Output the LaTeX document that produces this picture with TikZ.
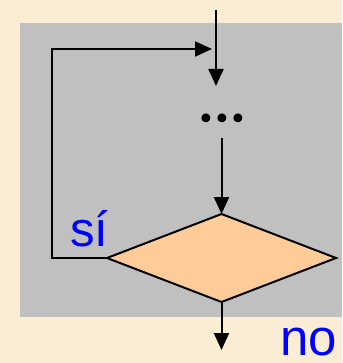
\documentclass[tikz,border=0pt]{standalone}
\usepackage{fontspec}
\setmainfont{Liberation Sans}
\newfontfamily\dejavu{DejaVu Sans}
\usetikzlibrary{arrows.meta,shapes.geometric}
\definecolor{bgbeige}{RGB}{250,237,212}
\definecolor{panelgray}{RGB}{192,192,192}
\definecolor{decfill}{RGB}{255,204,153}
\definecolor{lblblue}{RGB}{0,0,255}
\newcommand{\dotcell}{\makebox[16pt][c]{•}}
\tikzset{
  flow/.style={line width=2pt, -{Triangle[length=17pt,width=15pt]}},
  decision/.style={diamond, draw, line width=2pt, fill=decfill, inner sep=0pt, outer sep=0pt, minimum width=229pt, minimum height=88pt},
  lbl/.style={text=lblblue, inner sep=0pt, anchor=base west, text depth=0pt}
}
\begin{document}
\begin{tikzpicture}[x=1pt,y=-1pt]
\useasboundingbox (0,0) rectangle (342,363);
\fill[bgbeige] (0,0) rectangle (342,363);
\fill[panelgray] (20,23) rectangle (342,317);
% nodes
\node[decision] (dec) at (221.5,258) {};
\node[inner sep=0pt] (dots) at (222,122) {\dejavu\fontsize{30}{30}\selectfont\dotcell\dotcell\dotcell};
\node[lbl, font=\fontsize{49}{49}\selectfont] (si) at (70,246) {sí};
\node[lbl, font=\fontsize{51}{51}\selectfont] (no) at (280,355) {no};
% coordinates
\coordinate (in) at (216,10);
\coordinate (inend) at (216,86);
\coordinate (loopend) at (212,49);
\coordinate (dotsout) at (221.5,138);
\coordinate (out) at (221.5,350);
% connectors
\draw[flow] (in) -- (inend);
\draw[flow] (dotsout) -- (dec.north);
\draw[flow] (dec.west) -- (52,258) -- (52,49) -- (loopend);
\draw[flow] (dec.south) -- (out);
\end{tikzpicture}
\end{document}
